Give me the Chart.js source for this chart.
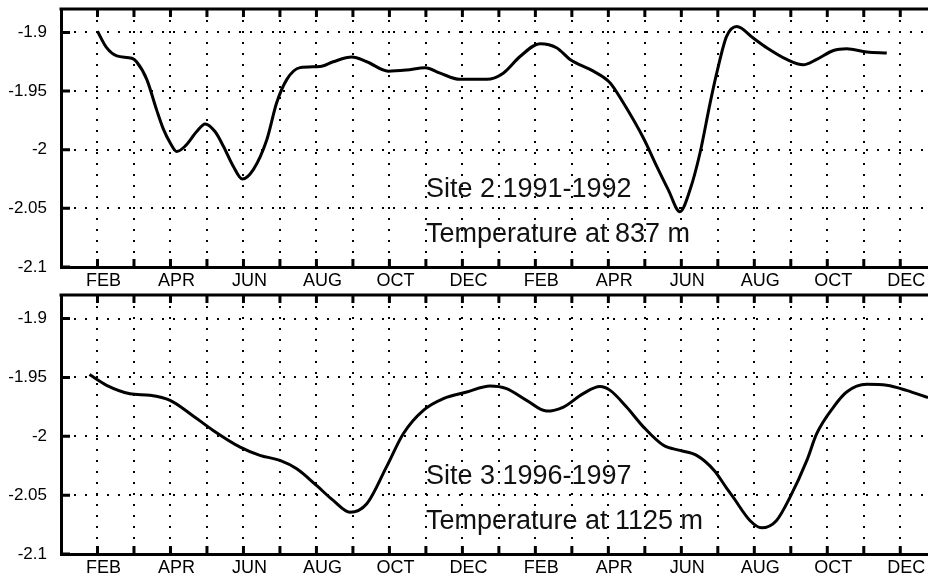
<!DOCTYPE html>
<html>
<head>
<meta charset="utf-8">
<script src="https://cdn.jsdelivr.net/npm/chart.js@4.4.1/dist/chart.umd.min.js"></script>
<style>
  html, body { margin: 0; padding: 0; background: #fff; overflow: hidden; }
  canvas { position: absolute; left: 0; }
  #topPanel { top: 0; }
  #bottomPanel { top: 286px; }
</style>
</head>
<body>
<canvas id="topPanel" width="928" height="290"></canvas>
<canvas id="bottomPanel" width="928" height="293"></canvas>
<script>
// month index 0 = JAN of the first year, 23 = DEC of the second year
const xTickLabels = ['', 'FEB', '', 'APR', '', 'JUN', '', 'AUG', '', 'OCT', '', 'DEC',
                     '', 'FEB', '', 'APR', '', 'JUN', '', 'AUG', '', 'OCT', '', 'DEC'];
const yTicks = [-2.1, -2.05, -2, -1.95, -1.9];

// Site 2, 1991-1992, 837 m
const site2Months = [1.0, 1.25, 1.53, 1.94, 2.07, 2.35, 2.62, 2.80, 2.99, 3.17, 3.40, 3.72, 3.95,
  4.22, 4.45, 4.72, 4.97, 5.27, 5.64, 5.91, 6.19, 6.55, 7.10, 7.46, 7.97, 8.38, 8.97, 9.47,
  9.98, 10.39, 10.93, 11.67, 12.12, 12.58, 13.13, 13.58, 13.95, 14.59, 15.05, 15.41, 15.96,
  16.33, 16.64, 16.96, 17.24, 17.51, 17.79, 17.97, 18.24, 18.52, 18.97, 19.34, 19.89, 20.34,
  20.71, 21.17, 21.53, 22.08, 22.63];
const site2Temp = [-1.899, -1.913, -1.920, -1.922, -1.925, -1.940, -1.966, -1.982, -1.994, -2.0015,
  -1.997, -1.9845, -1.978, -1.9845, -1.997, -2.014, -2.025, -2.017, -1.9915, -1.960, -1.940,
  -1.930, -1.929, -1.925, -1.921, -1.925, -1.933, -1.932, -1.930, -1.9347, -1.940, -1.940,
  -1.9347, -1.9205, -1.9096, -1.913, -1.923, -1.933, -1.943, -1.960, -1.990, -2.0144, -2.034,
  -2.0528, -2.034, -2.003, -1.960, -1.9347, -1.9034, -1.8949, -1.9048, -1.913, -1.923, -1.9276,
  -1.923, -1.9154, -1.914, -1.9167, -1.9176];
const site2Notes = ['Site 2 1991-1992', 'Temperature at 837 m'];

// Site 3, 1996-1997, 1125 m
const site3Months = [0.78, 1.25, 1.89, 2.44, 2.99, 3.54, 4.17, 4.91, 5.45, 6.00, 6.46, 7.01, 7.46,
  7.92, 8.38, 8.92, 9.38, 9.93, 10.48, 11.12, 11.76, 12.21, 12.76, 13.31, 13.77, 14.31, 14.77,
  15.05, 15.50, 15.96, 16.51, 16.96, 17.42, 17.90, 18.24, 18.42, 18.88, 19.20, 19.61, 19.98,
  20.44, 20.71, 21.17, 21.53, 22.08, 22.63, 23.17, 23.76];
const site3Temp = [-1.9476, -1.9567, -1.9638, -1.9652, -1.9695, -1.9808, -1.995, -2.0092, -2.0162,
  -2.0205, -2.0276, -2.042, -2.0545, -2.0645, -2.0573, -2.026, -1.9978, -1.978, -1.968, -1.9624,
  -1.9573, -1.9595, -1.9695, -1.9786, -1.9752, -1.9638, -1.9578, -1.961, -1.9752, -1.992,
  -2.0077, -2.012, -2.0162, -2.029, -2.044, -2.0517, -2.0715, -2.0778, -2.0715, -2.0517,
  -2.0205, -1.9978, -1.9752, -1.9624, -1.9559, -1.9567, -1.961, -1.9672];
const site3Notes = ['Site 3 1996-1997', 'Temperature at 1125 m'];

const FONT = '"Liberation Sans", Arial, Helvetica, sans-serif';

// top border plus the short inward tick marks
const framePlugin = {
  id: 'frame',
  beforeDatasetsDraw(chart) {
    const { ctx, chartArea: a, scales: { x, y } } = chart;
    ctx.save();
    ctx.strokeStyle = '#000';
    ctx.lineWidth = 3;
    ctx.beginPath();
    ctx.moveTo(a.left - 1.5, a.top);
    ctx.lineTo(a.right, a.top);
    x.ticks.forEach(t => {
      const px = x.getPixelForValue(t.value);
      if (px <= a.left + 2) return;
      ctx.moveTo(px, a.bottom);
      ctx.lineTo(px, a.bottom - 8);
      ctx.moveTo(px, a.top);
      ctx.lineTo(px, a.top + 8);
    });
    y.ticks.forEach(t => {
      const py = y.getPixelForValue(t.value);
      ctx.moveTo(a.left, py);
      ctx.lineTo(a.left + 9, py);
    });
    ctx.stroke();
    ctx.restore();
  }
};

const notePlugin = {
  id: 'note',
  afterDatasetsDraw(chart, args, opts) {
    const { ctx, scales: { x, y } } = chart;
    ctx.save();
    ctx.font = '27px ' + FONT;
    ctx.fillStyle = '#111';
    ctx.textBaseline = 'alphabetic';
    opts.lines.forEach((txt, i) => {
      ctx.fillText(txt, x.getPixelForValue(opts.x), y.getPixelForValue(opts.y[i]));
    });
    ctx.restore();
  }
};

function makePanel(id, months, temps, notes, axisHeight) {
  const points = months.map((m, i) => ({ x: m, y: temps[i] }));
  return new Chart(document.getElementById(id), {
    type: 'line',
    data: {
      datasets: [{
        data: points,
        borderColor: '#000',
        borderWidth: 3,
        pointRadius: 0,
        cubicInterpolationMode: 'monotone',
        fill: false,
      }],
    },
    options: {
      responsive: false,
      animation: false,
      layout: { padding: { top: 9, left: 0, right: 0, bottom: 0 } },
      scales: {
        x: {
          type: 'linear',
          min: 0,
          max: 23.76,
          afterBuildTicks: s => { s.ticks = xTickLabels.map((_, i) => ({ value: i })); },
          afterFit: s => {
            s.height = axisHeight;
            s.paddingLeft = s.paddingRight = s.paddingTop = s.paddingBottom = 0;
          },
          ticks: {
            autoSkip: false,
            maxRotation: 0,
            minRotation: 0,
            padding: 3,
            labelOffset: 6,
            color: '#000',
            font: { family: FONT, size: 18 },
            callback: v => xTickLabels[v],
          },
          grid: { color: '#000', lineWidth: 2, drawTicks: false },
          border: { color: '#000', width: 3, dash: [2, 9] },
        },
        y: {
          min: -2.1,
          max: -1.88,
          afterBuildTicks: s => { s.ticks = yTicks.map(v => ({ value: v })); },
          afterFit: s => {
            s.width = 61;
            s.paddingLeft = s.paddingRight = s.paddingTop = s.paddingBottom = 0;
          },
          ticks: {
            padding: 14,
            color: '#000',
            font: { family: FONT, size: 17 },
            callback: v => String(v),
          },
          grid: { color: '#000', lineWidth: 2, drawTicks: false },
          border: { color: '#000', width: 3, dash: [2, 9] },
        },
      },
      plugins: {
        legend: { display: false },
        tooltip: { enabled: false },
        note: { lines: notes, x: 10, y: [-2.0402, -2.0786] },
      },
    },
    plugins: [framePlugin, notePlugin],
  });
}

makePanel('topPanel', site2Months, site2Temp, site2Notes, 23);
makePanel('bottomPanel', site3Months, site3Temp, site3Notes, 25);
</script>
</body>
</html>
